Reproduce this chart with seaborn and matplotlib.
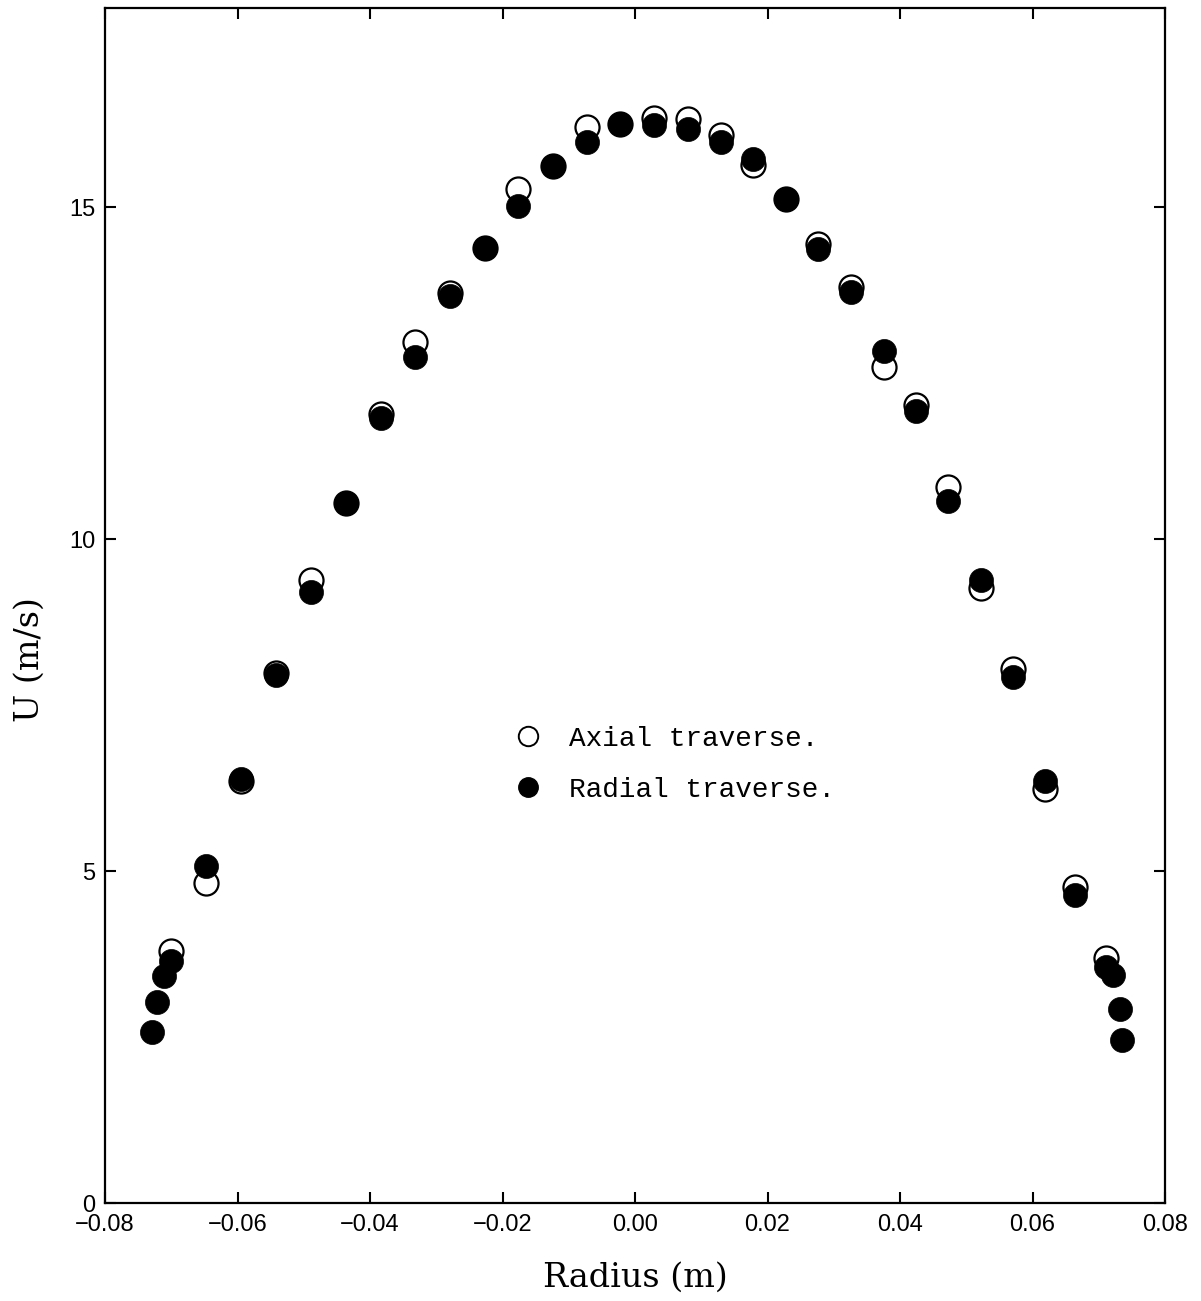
import matplotlib
matplotlib.use("Agg")
import matplotlib.pyplot as plt
import seaborn as sns
import pandas as pd
from matplotlib.lines import Line2D

# Radial traverse (filled circles)
radial_r = [-0.0729, -0.0722, -0.0711, -0.0700, -0.0648, -0.0595, -0.0542, -0.0489,
            -0.0436, -0.0383, -0.0332, -0.0279, -0.0226, -0.0177, -0.0124, -0.0072,
            -0.0023, 0.0029, 0.0080, 0.0130, 0.0178, 0.0228, 0.0276, 0.0326,
            0.0376, 0.0424, 0.0472, 0.0522, 0.0571, 0.0619, 0.0664, 0.0711,
            0.0721, 0.0732, 0.0735]
radial_u = [2.58, 3.03, 3.42, 3.65, 5.08, 6.38, 7.96, 9.21,
            10.55, 11.82, 12.74, 13.66, 14.38, 15.02, 15.62, 15.98,
            16.25, 16.24, 16.18, 15.98, 15.72, 15.12, 14.37, 13.72,
            12.83, 11.93, 10.57, 9.38, 7.93, 6.36, 4.64, 3.56,
            3.44, 2.92, 2.46]

# Axial traverse (open circles)
axial_r = [-0.0700, -0.0648, -0.0595, -0.0542, -0.0489, -0.0436, -0.0383, -0.0332,
           -0.0279, -0.0226, -0.0177, -0.0124, -0.0072, -0.0023, 0.0029, 0.0080,
           0.0130, 0.0178, 0.0228, 0.0276, 0.0326, 0.0376, 0.0424, 0.0472,
           0.0522, 0.0571, 0.0619, 0.0664, 0.0711]
axial_u = [3.80, 4.82, 6.35, 7.99, 9.38, 10.55, 11.88, 12.97,
           13.71, 14.38, 15.27, 15.62, 16.21, 16.25, 16.34, 16.33,
           16.08, 15.63, 15.12, 14.44, 13.79, 12.60, 12.02, 10.79,
           9.27, 8.04, 6.24, 4.76, 3.69]

x_ticks = [-0.08, -0.06, -0.04, -0.02, 0.00, 0.02, 0.04, 0.06, 0.08]
x_ticklabels = ["\u22120.08", "\u22120.06", "\u22120.04", "\u22120.02", "0.00", "0.02", "0.04", "0.06", "0.08"]
y_ticks = [0, 5, 10, 15]
y_ticklabels = ["0", "5", "10", "15"]

sns.set_theme(style="ticks")
plt.rcParams['font.family'] = ['Liberation Sans', 'DejaVu Sans']
plt.rcParams['text.color'] = 'black'
plt.rcParams['axes.labelcolor'] = 'black'
plt.rcParams['xtick.color'] = 'black'
plt.rcParams['ytick.color'] = 'black'

fig = plt.figure(figsize=(12.01, 13.01), dpi=100)
ax = fig.add_axes([105/1201, 1-1203/1301, 1060/1201, 1195/1301])

df_ax = pd.DataFrame({"r": axial_r, "u": axial_u})
df_rad = pd.DataFrame({"r": radial_r, "u": radial_u})

sns.scatterplot(data=df_ax, x="r", y="u", ax=ax, s=300, marker="o",
                facecolor="white", edgecolor="black", linewidth=1.6, zorder=3)
sns.scatterplot(data=df_rad, x="r", y="u", ax=ax, s=300, marker="o",
                color="black", edgecolor="black", linewidth=0.5, zorder=4)

ax.set_xlim(-0.08, 0.08)
ax.set_ylim(0, 18)
ax.set_xticks(x_ticks)
ax.set_xticklabels(x_ticklabels)
ax.set_yticks(y_ticks)
ax.set_yticklabels(y_ticklabels)
ax.tick_params(axis="both", direction="in", length=8, width=1.5, labelsize=17,
               colors="black", labelcolor="black", top=True, right=True)
ax.tick_params(axis="x", pad=8)
ax.tick_params(axis="y", pad=7)
for sp in ax.spines.values():
    sp.set_linewidth(1.6)
    sp.set_color("black")
    sp.set_visible(True)

ax.set_xlabel("Radius (m)", family="DejaVu Serif", fontsize=24, color="black")
ax.set_ylabel("U (m/s)", family="DejaVu Serif", fontsize=24, color="black")
ax.xaxis.set_label_coords(0.5, -(1278 - 1203) / 1195, transform=ax.transAxes)
ax.xaxis.label.set_va("center")
ax.yaxis.set_label_coords(-(105 - 30) / 1060, (1203 - 660) / 1195, transform=ax.transAxes)
ax.yaxis.label.set_va("center")

handles = [
    Line2D([], [], linestyle="none", marker="o", markersize=14, markerfacecolor="white",
           markeredgecolor="black", markeredgewidth=1.4),
    Line2D([], [], linestyle="none", marker="o", markersize=14, markerfacecolor="black",
           markeredgecolor="black"),
]
leg = ax.legend(handles, ["Axial traverse.", "Radial traverse."], loc="upper left",
                bbox_to_anchor=(0.36, 0.42), frameon=False,
                prop={"family": "Liberation Mono", "size": 20},
                handletextpad=0.85, labelspacing=0.9, handlelength=1.2)
for t in leg.get_texts():
    t.set_color("black")

fig.savefig("out.png", dpi=100, facecolor="white")
